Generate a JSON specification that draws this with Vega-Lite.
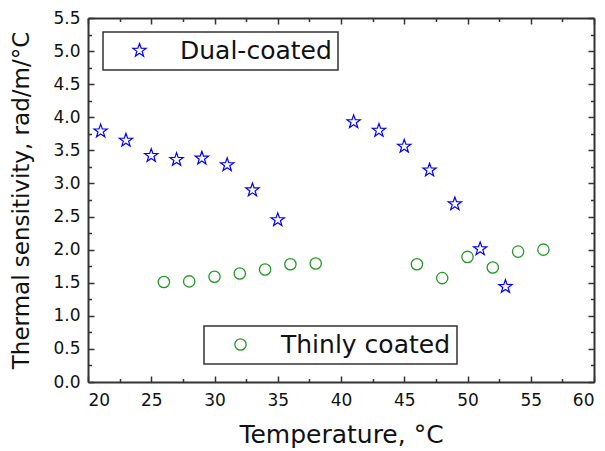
{
  "$schema": "https://vega.github.io/schema/vega-lite/v6.json",
  "width": 506,
  "height": 364,
  "autosize": "none",
  "padding": {"left": 88, "top": 18, "right": 11, "bottom": 69},
  "background": "white",
  "config": {
    "view": {"stroke": null},
    "font": "DejaVu Sans",
    "axis": {
      "grid": false,
      "domainColor": "#333333",
      "domainWidth": 2,
      "tickColor": "#333333",
      "tickWidth": 1.5,
      "labelFont": "DejaVu Sans",
      "labelFontSize": 17,
      "labelColor": "#111111",
      "titleFont": "DejaVu Sans",
      "titleFontSize": 24,
      "titleFontWeight": "normal",
      "titleColor": "#111111"
    },
    "legend": {
      "labelFont": "DejaVu Sans",
      "labelFontSize": 25,
      "labelColor": "#111111",
      "labelLimit": 400,
      "strokeColor": "#333333",
      "strokeWidth": 1.5,
      "padding": 6,
      "symbolOffset": 18,
      "labelOffset": 28
    }
  },
  "datasets": {
    "dual": [
      {"t": 21, "s": 3.79, "series": "Dual-coated"},
      {"t": 23, "s": 3.65, "series": "Dual-coated"},
      {"t": 25, "s": 3.42, "series": "Dual-coated"},
      {"t": 27, "s": 3.36, "series": "Dual-coated"},
      {"t": 29, "s": 3.38, "series": "Dual-coated"},
      {"t": 31, "s": 3.28, "series": "Dual-coated"},
      {"t": 33, "s": 2.90, "series": "Dual-coated"},
      {"t": 35, "s": 2.45, "series": "Dual-coated"},
      {"t": 41, "s": 3.93, "series": "Dual-coated"},
      {"t": 43, "s": 3.80, "series": "Dual-coated"},
      {"t": 45, "s": 3.56, "series": "Dual-coated"},
      {"t": 47, "s": 3.20, "series": "Dual-coated"},
      {"t": 49, "s": 2.69, "series": "Dual-coated"},
      {"t": 51, "s": 2.01, "series": "Dual-coated"},
      {"t": 53, "s": 1.44, "series": "Dual-coated"}
    ],
    "thin": [
      {"t": 26, "s": 1.51, "series": "Thinly coated"},
      {"t": 28, "s": 1.52, "series": "Thinly coated"},
      {"t": 30, "s": 1.59, "series": "Thinly coated"},
      {"t": 32, "s": 1.64, "series": "Thinly coated"},
      {"t": 34, "s": 1.70, "series": "Thinly coated"},
      {"t": 36, "s": 1.78, "series": "Thinly coated"},
      {"t": 38, "s": 1.79, "series": "Thinly coated"},
      {"t": 46, "s": 1.78, "series": "Thinly coated"},
      {"t": 48, "s": 1.57, "series": "Thinly coated"},
      {"t": 50, "s": 1.89, "series": "Thinly coated"},
      {"t": 52, "s": 1.73, "series": "Thinly coated"},
      {"t": 54, "s": 1.97, "series": "Thinly coated"},
      {"t": 56, "s": 2.00, "series": "Thinly coated"}
    ]
  },
  "layer": [
    {
      "data": {"name": "dual"},
      "mark": {"type": "point", "shape": "M0,-1L0.235,-0.324L0.951,-0.309L0.380,0.124L0.588,0.809L0,0.4L-0.588,0.809L-0.380,0.124L-0.951,-0.309L-0.235,-0.324Z", "filled": false, "opacity": 1, "size": 196, "strokeWidth": 1.2},
      "encoding": {
        "x": {
          "field": "t", "type": "quantitative",
          "scale": {"domain": [20, 60], "nice": false, "zero": false},
          "axis": {
            "orient": "bottom",
            "title": "Temperature, °C",
            "titleFontSize": 25,
            "values": [20, 25, 30, 35, 40, 45, 50, 55, 60],
            "format": "d",
            "tickSize": -6,
            "labelPadding": 16,
            "titlePadding": 14
          }
        },
        "y": {
          "field": "s", "type": "quantitative",
          "scale": {"domain": [0, 5.5], "nice": false},
          "axis": {
            "orient": "left",
            "title": "Thermal sensitivity, rad/m/°C",
            "titleFontSize": 23,
            "values": [0, 0.5, 1, 1.5, 2, 2.5, 3, 3.5, 4, 4.5, 5, 5.5],
            "format": ".1f",
            "tickSize": -6,
            "labelPadding": 14,
            "titlePadding": 19
          }
        },
        "color": {
          "field": "series", "type": "nominal",
          "scale": {"domain": ["Dual-coated"], "range": ["#0000ff"]},
          "legend": {"title": null, "orient": "none", "legendX": 15, "legendY": 14, "symbolSize": 196, "symbolType": "M0,-1L0.235,-0.324L0.951,-0.309L0.380,0.124L0.588,0.809L0,0.4L-0.588,0.809L-0.380,0.124L-0.951,-0.309L-0.235,-0.324Z", "symbolStrokeWidth": 1.2, "symbolOpacity": 1}
        }
      }
    },
    {
      "data": {"name": "thin"},
      "mark": {"type": "point", "shape": "circle", "filled": false, "opacity": 1, "size": 128, "strokeWidth": 1.3},
      "encoding": {
        "x": {
          "field": "t", "type": "quantitative",
          "axis": {
            "orient": "top",
            "title": null,
            "labels": false,
            "values": [20, 25, 30, 35, 40, 45, 50, 55, 60],
            "tickSize": -6
          }
        },
        "y": {
          "field": "s", "type": "quantitative",
          "axis": {
            "orient": "right",
            "title": null,
            "labels": false,
            "values": [0, 0.5, 1, 1.5, 2, 2.5, 3, 3.5, 4, 4.5, 5, 5.5],
            "tickSize": -6
          }
        },
        "color": {
          "field": "series", "type": "nominal",
          "scale": {"domain": ["Thinly coated"], "range": ["#229922"]},
          "legend": {"title": null, "orient": "none", "legendX": 116, "legendY": 308, "symbolSize": 128, "symbolType": "circle", "symbolStrokeWidth": 1.3, "symbolOpacity": 1}
        }
      }
    },
    {
      "data": {"name": "dual"},
      "mark": {"type": "point", "opacity": 0},
      "encoding": {
        "x": {
          "field": "t", "type": "quantitative",
          "axis": {
            "orient": "bottom", "title": null, "labels": false, "domain": false,
            "values": [22.5, 27.5, 32.5, 37.5, 42.5, 47.5, 52.5, 57.5],
            "tickSize": -3.5
          }
        },
        "y": {
          "field": "s", "type": "quantitative",
          "axis": {
            "orient": "left", "title": null, "labels": false, "domain": false,
            "values": [0.25, 0.75, 1.25, 1.75, 2.25, 2.75, 3.25, 3.75, 4.25, 4.75, 5.25],
            "tickSize": -3.5
          }
        }
      }
    },
    {
      "data": {"name": "dual"},
      "mark": {"type": "point", "opacity": 0},
      "encoding": {
        "x": {
          "field": "t", "type": "quantitative",
          "axis": {
            "orient": "top", "title": null, "labels": false, "domain": false,
            "values": [22.5, 27.5, 32.5, 37.5, 42.5, 47.5, 52.5, 57.5],
            "tickSize": -3.5
          }
        },
        "y": {
          "field": "s", "type": "quantitative",
          "axis": {
            "orient": "right", "title": null, "labels": false, "domain": false,
            "values": [0.25, 0.75, 1.25, 1.75, 2.25, 2.75, 3.25, 3.75, 4.25, 4.75, 5.25],
            "tickSize": -3.5
          }
        }
      }
    }
  ],
  "resolve": {
    "scale": {"color": "independent"},
    "axis": {"x": "independent", "y": "independent"},
    "legend": {"color": "independent"}
  }
}
